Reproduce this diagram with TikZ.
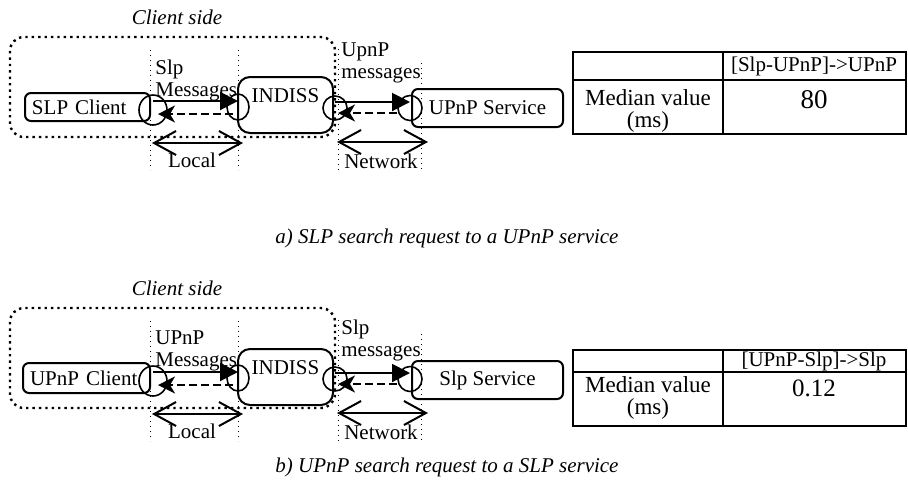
\documentclass[tikz,border=0pt]{standalone}
\usepackage{fontspec}
\setmainfont{Liberation Serif}
\usetikzlibrary{arrows.meta,shapes.geometric}

\tikzset{
  box/.style={draw, line width=1pt, rounded corners=3pt, inner sep=0pt},
  port/.style={draw, ellipse, line width=0.8pt, inner sep=0pt},
  req/.style={line width=1pt, -{Triangle[length=9pt,width=9pt]}},
  reply/.style={line width=1pt, dash pattern=on 4pt off 2pt, -{Stealth[length=8.5pt,width=8.5pt,inset=2.5pt]}},
  span/.style={line width=1pt, {Straight Barb[length=11pt,width=12pt]}-{Straight Barb[length=11pt,width=12pt]}},
  guide/.style={line width=0.5pt, dotted},
  side/.style={line width=1.2pt, dotted, rounded corners=7pt},
  msg/.style={align=left, inner sep=0pt, anchor=west},
  caption/.style={font=\fontsize{10.5}{11}\selectfont\itshape}
}

\begin{document}
\begin{tikzpicture}[x=0.5pt, y=-0.5pt, font=\fontsize{10.5}{11}\selectfont]
    \useasboundingbox (0,0) rectangle (908,484);

    % a) SLP client -> UPnP service
    \begin{scope}
        % Nodes
        \node[caption] (sidea) at (177,17) {Client side};
        \draw[side] (10,37) rectangle (335,137);
        \node[box, inner xsep=3.5pt, text width=55.5pt, minimum height=14pt, align=left] (clienta) at (87.5,107) {SLP Client};
        \node[box, rounded corners=6pt, minimum width=47.5pt, minimum height=28pt, text height=8pt, text depth=11pt] (indissa) at (285.5,105) {INDISS};
        \node[box, minimum width=75.5pt, minimum height=19pt] (servicea) at (487.5,108) {UPnP Service};
        \node[port, minimum width=14pt, minimum height=15pt] (cporta) at (153,110) {};
        \node[port, minimum width=11pt, minimum height=13pt] (iporta) at (238,107) {};
        \node[port, minimum width=12pt, minimum height=12pt] (jporta) at (335,108) {};
        \node[port, minimum width=12pt, minimum height=12.5pt] (sporta) at (410,108) {};

        % Guides
        \draw[guide] (150,50) -- (150,170);
        \draw[guide] (238,50) -- (238,170);
        \draw[guide] (338,49) -- (338,170);
        \draw[guide] (421,63) -- (421,169);

        % Lines
        \draw[req] (cporta.center |- 0,101) -- (iporta.center |- 0,101);
        \draw[reply, shorten <=2.5pt, shorten >=2.5pt] (iporta.center |- 0,114) -- (cporta.center |- 0,114);
        \draw[req] (jporta.center |- 0,102) -- (sporta.center |- 0,102);
        \draw[reply, shorten <=6.5pt, shorten >=1.5pt] (sporta.center |- 0,113) -- (jporta.center |- 0,113);
        \node[msg] (msg1a) at (155,80) {Slp\\Messages};
        \node[msg] (msg2a) at (341,63) {UpnP\\messages};

        \coordinate (l1a) at (152,143);
        \coordinate (l2a) at (243,143);
        \coordinate (n1a) at (337,142);
        \coordinate (n2a) at (428,142);
        \draw[span] (l1a) -- (l2a);
        \draw[span] (n1a) -- (n2a);
        \node (locala) at (192,160) {Local};
        \node (networka) at (381,161) {Network};
    \end{scope}

    % b) UPnP client -> SLP service
    \begin{scope}[shift={(0,271)}]
        % Nodes
        \node[caption] (sideb) at (177,17) {Client side};
        \draw[side] (10,37) rectangle (335,137);
        \node[box, inner xsep=3.5pt, text width=56.5pt, minimum height=15pt, align=left] (clientb) at (86.5,107) {UPnP Client};
        \node[box, rounded corners=6pt, minimum width=47.5pt, minimum height=28pt, text height=8pt, text depth=11pt] (indissb) at (285.5,106) {INDISS};
        \node[box, minimum width=75.5pt, minimum height=19pt] (serviceb) at (487.5,109) {Slp Service};
        \node[port, minimum width=14pt, minimum height=15pt] (cportb) at (153,110) {};
        \node[port, minimum width=11pt, minimum height=13pt] (iportb) at (238,107) {};
        \node[port, minimum width=12pt, minimum height=12pt] (jportb) at (335,108) {};
        \node[port, minimum width=12pt, minimum height=12.5pt] (sportb) at (410,108) {};

        % Guides
        \draw[guide] (150,50) -- (150,170);
        \draw[guide] (238,50) -- (238,170);
        \draw[guide] (338,49) -- (338,170);
        \draw[guide] (421,63) -- (421,169);

        % Lines
        \draw[req] (cportb.center |- 0,101) -- (iportb.center |- 0,101);
        \draw[reply, shorten <=2.5pt, shorten >=2.5pt] (iportb.center |- 0,114) -- (cportb.center |- 0,114);
        \draw[req] (jportb.center |- 0,102) -- (sportb.center |- 0,102);
        \draw[reply, shorten <=6.5pt, shorten >=1.5pt] (sportb.center |- 0,113) -- (jportb.center |- 0,113);
        \node[msg] (msg1b) at (155,80) {UPnP\\Messages};
        \node[msg] (msg2b) at (341,69) {Slp\\messages};

        \coordinate (l1b) at (152,143);
        \coordinate (l2b) at (243,143);
        \coordinate (n1b) at (337,142);
        \coordinate (n2b) at (428,142);
        \draw[span] (l1b) -- (l2b);
        \draw[span] (n1b) -- (n2b);
        \node (localb) at (192,160) {Local};
        \node (networkb) at (381,161) {Network};
    \end{scope}

    % Tables
    \draw[line width=1pt] (573,52) rectangle (906,134);
    \draw[line width=1pt] (723,52) -- (723,134);
    \draw[line width=1pt] (573,80) -- (906,80);
    \node (heada) at (814,66) {[Slp-UPnP]->UPnP};
    \node[align=center, font=\fontsize{11.5}{11}\selectfont] (rowa) at (648,111) {Median value\\(ms)};
    \node[font=\fontsize{13.5}{14}\selectfont] (vala) at (814,100) {80};

    \draw[line width=1pt] (573,350) rectangle (906,426);
    \draw[line width=1pt] (723,350) -- (723,426);
    \draw[line width=1pt] (573,372) -- (906,372);
    \node[inner sep=0pt] (headb) at (814,361) {[UPnP-Slp]->Slp};
    \node[align=center, font=\fontsize{11.5}{11}\selectfont] (rowb) at (648,398) {Median value\\(ms)};
    \node[font=\fontsize{12.5}{14}\selectfont] (valb) at (814,388) {0.12};

    % Captions
    \node[caption] (capa) at (447,238) {a) SLP search request to a UPnP service};
    \node[caption] (capb) at (447,467) {b) UPnP search request to a SLP service};
\end{tikzpicture}
\end{document}
